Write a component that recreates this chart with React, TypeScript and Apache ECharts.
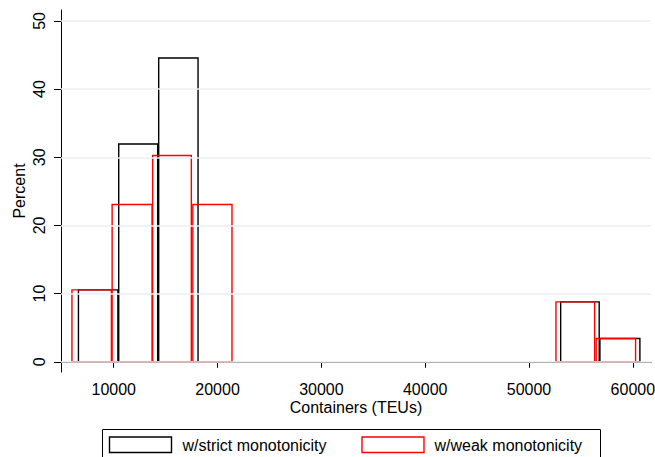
import React, { useEffect, useRef } from "react";
import * as echarts from "echarts";

// Histogram bins (lower edge, upper edge, percent)
const strictLower = [6600, 10480, 14330, 53050, 56830];
const strictUpper = [10400, 14230, 18120, 56760, 60680];
const strictPercent = [10.55, 31.95, 44.55, 8.78, 3.41];

const weakLower = [5975, 9845, 13750, 17620, 52595, 56470];
const weakUpper = [9775, 13690, 17475, 21390, 56320, 60265];
const weakPercent = [10.55, 23.07, 30.25, 23.07, 8.78, 3.41];

const xTicks = [10000, 20000, 30000, 40000, 50000, 60000];
const yTicks = [0, 10, 20, 30, 40, 50];

const seriesNames = ["w/strict monotonicity", "w/weak monotonicity"];

const FONT = "'Liberation Sans', Arial, sans-serif";

function makeBars(lower: number[], upper: number[], pct: number[]) {
  return lower.map((l, i) => [l, upper[i], pct[i]]);
}

function barRenderer(color: string) {
  return (params: any, api: any) => {
    const lo = api.value(0);
    const hi = api.value(1);
    const p = api.value(2);
    const a = api.coord([lo, p]);
    const b = api.coord([hi, 0]);
    return {
      type: "rect",
      shape: { x: a[0], y: a[1], width: b[0] - a[0], height: b[1] - a[1] },
      style: { fill: "none", stroke: color, lineWidth: 1.4 },
    };
  };
}

export default function App() {
  const ref = useRef<HTMLDivElement>(null);
  useEffect(() => {
    if (!ref.current) return;
    const chart = echarts.init(ref.current, null, { renderer: "svg" });
    chart.setOption({
      animation: false,
      backgroundColor: "#ffffff",
      textStyle: { fontFamily: FONT },
      grid: { left: 61, right: 4, top: 10, bottom: 85, containLabel: false, outerBoundsMode: "none" },
      xAxis: {
        type: "value",
        min: 4920,
        max: 61750,
        name: "Containers (TEUs)",
        nameLocation: "middle",
        nameGap: 27,
        nameMoveOverlap: false,
        nameTextStyle: { fontSize: 16, color: "#000", fontFamily: FONT },
        axisLine: { show: true, lineStyle: { color: "#000", width: 1 } },
        axisTick: { show: true, length: 6, customValues: xTicks, lineStyle: { color: "#000" } },
        axisLabel: {
          customValues: xTicks,
          fontSize: 16,
          color: "#000",
          margin: 9,
          fontFamily: FONT,
          formatter: (v: number) => String(v),
        },
        splitLine: { show: false },
      },
      yAxis: {
        type: "value",
        min: -1.5,
        max: 51.6,
        name: "Percent",
        nameLocation: "middle",
        nameGap: 34,
        nameMoveOverlap: false,
        nameRotate: 90,
        nameTextStyle: { fontSize: 16, color: "#000", fontFamily: FONT },
        axisLine: { show: true, lineStyle: { color: "#000", width: 1 } },
        axisTick: { show: true, length: 7, customValues: yTicks, lineStyle: { color: "#000" } },
        axisLabel: {
          customValues: yTicks,
          rotate: 90,
          fontSize: 16,
          color: "#000",
          margin: 14,
          fontFamily: FONT,
          formatter: (v: number) => String(v),
        },
        splitLine: { show: false },
      },
      series: [
        {
          type: "line",
          data: [],
          z: 0,
          silent: true,
          markLine: {
            silent: true,
            symbol: "none",
            label: { show: false },
            lineStyle: { color: "#e8eff2", width: 1.5, type: "solid" },
            data: yTicks.map((v) => ({ yAxis: v })),
          },
        },
        {
          name: seriesNames[0],
          type: "custom",
          z: 2,
          renderItem: barRenderer("#000000"),
          encode: { x: [0, 1], y: 2 },
          data: makeBars(strictLower, strictUpper, strictPercent),
        },
        {
          name: seriesNames[1],
          type: "custom",
          z: 3,
          renderItem: barRenderer("#ff0000"),
          encode: { x: [0, 1], y: 2 },
          data: makeBars(weakLower, weakUpper, weakPercent),
        },
      ],
      graphic: [
        {
          type: "rect",
          shape: { x: 102.5, y: 429.5, width: 498, height: 40 },
          style: { fill: "#fff", stroke: "#000", lineWidth: 1 },
        },
        {
          type: "rect",
          shape: { x: 109.5, y: 437, width: 62, height: 15.5 },
          style: { fill: "none", stroke: "#000", lineWidth: 1.4 },
        },
        {
          type: "text",
          x: 182.5,
          y: 445,
          style: { text: seriesNames[0], fill: "#000", font: `16px ${FONT}`, verticalAlign: "middle", align: "left" },
        },
        {
          type: "rect",
          shape: { x: 362, y: 437, width: 62, height: 15.5 },
          style: { fill: "none", stroke: "#ff0000", lineWidth: 1.4 },
        },
        {
          type: "text",
          x: 434.5,
          y: 445,
          style: { text: seriesNames[1], fill: "#000", font: `16px ${FONT}`, verticalAlign: "middle", align: "left" },
        },
      ],
    });
    return () => chart.dispose();
  }, []);
  return (
    <div
      ref={ref}
      style={{ position: "fixed", left: 0, top: 0, width: 655, height: 457, background: "#fff" }}
    />
  );
}
